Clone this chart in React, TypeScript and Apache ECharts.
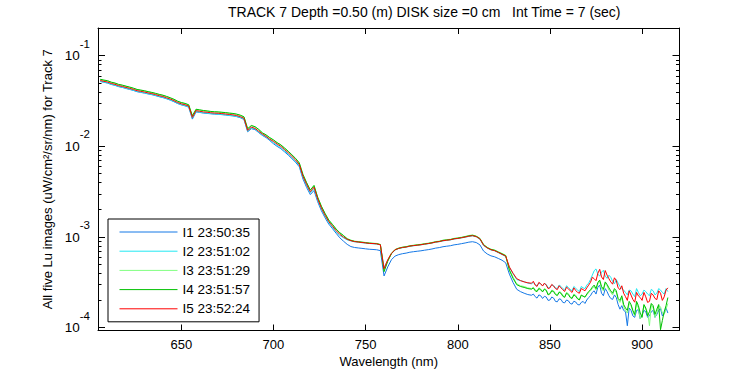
import React, { useEffect, useRef } from "react";
import * as echarts from "echarts";

// Wavelength grid (nm): 2 nm steps 606..914
const wavelengths: number[] = [];
for (let w = 606; w <= 914; w += 2) wavelengths.push(w);
// Extra samples in the noisy red end: odd wavelengths 841..913
const wavelengthsFine: number[] = [];
for (let w = 841; w <= 913; w += 2) wavelengthsFine.push(w);

// Lu radiance (uW/cm^2/sr/nm)
const I1 = [
  520e-4, 510e-4, 499e-4, 482e-4, 471e-4, 456e-4, 447e-4, 435e-4, 425e-4, 414e-4,
  401e-4, 394e-4, 387e-4, 379e-4, 372e-4, 363e-4, 353e-4, 345e-4, 335e-4, 324e-4,
  311e-4, 297e-4, 287e-4, 280e-4, 271e-4, 200e-4, 240e-4, 237e-4, 233e-4, 231e-4,
  229e-4, 227e-4, 226e-4, 224e-4, 222e-4, 219e-4, 217e-4, 213e-4, 207e-4, 198e-4,
  145e-4, 157e-4, 153e-4, 142e-4, 132e-4, 125e-4, 116e-4, 107e-4, 100e-4, 94.4e-4,
  87.1e-4, 80.3e-4, 73.3e-4, 66.8e-4, 59.6e-4, 43.7e-4, 35.2e-4, 29.4e-4, 32.6e-4, 24.5e-4,
  19.5e-4, 16.3e-4, 13.9e-4, 12.4e-4, 11.0e-4, 9.8e-4, 9.0e-4, 8.3e-4, 7.85e-4, 7.67e-4,
  7.58e-4, 7.50e-4, 7.41e-4, 7.33e-4, 7.29e-4, 7.24e-4, 7.08e-4, 3.72e-4, 4.68e-4, 5.62e-4,
  6.17e-4, 6.40e-4, 6.55e-4, 6.65e-4, 6.80e-4, 6.89e-4, 6.97e-4, 7.05e-4, 7.16e-4, 7.26e-4,
  7.38e-4, 7.55e-4, 7.65e-4, 7.82e-4, 7.92e-4, 8.02e-4, 8.20e-4, 8.30e-4, 8.45e-4, 8.60e-4,
  8.78e-4, 8.88e-4, 8.70e-4, 8.20e-4, 7.00e-4, 6.50e-4, 6.20e-4, 6.05e-4, 5.80e-4, 5.55e-4,
  5.20e-4, 3.90e-4, 3.15e-4, 2.65e-4, 2.50e-4, 2.40e-4, 2.32e-4, 2.28e-4, 2.20e-4, 2.30e-4,
  2.10e-4, 2.18e-4, 2.02e-4, 2.12e-4, 1.93e-4, 2.05e-4, 1.88e-4, 1.98e-4, 1.82e-4, 1.92e-4,
  1.78e-4, 1.95e-4, 2.02e-4, 2.25e-4, 2.55e-4, 2.80e-4, 2.40e-4, 2.70e-4, 2.25e-4, 2.05e-4,
  2.15e-4, 1.60e-4, 1.55e-4, 1.05e-4, 1.55e-4, 1.30e-4, 1.58e-4, 1.38e-4, 1.50e-4, 1.35e-4,
  1.55e-4, 1.40e-4, 1.62e-4, 1.45e-4, 1.45e-4,
];
const I1fine = [
  2.35e-4, 2.12e-4, 2.25e-4, 2.22e-4, 2.00e-4, 2.18e-4, 1.95e-4, 2.08e-4, 1.90e-4, 2.02e-4,
  1.85e-4, 1.96e-4, 1.80e-4, 1.90e-4, 1.85e-4, 2.15e-4, 2.45e-4, 2.35e-4, 2.95e-4, 2.25e-4,
  2.50e-4, 2.10e-4, 2.30e-4, 1.80e-4, 1.75e-4, 1.50e-4, 1.65e-4, 1.35e-4, 1.55e-4, 1.25e-4,
  1.55e-4, 1.30e-4, 1.50e-4, 1.30e-4, 1.55e-4, 1.35e-4, 1.65e-4,
];
const I2 = [
  522e-4, 512e-4, 503e-4, 485e-4, 474e-4, 459e-4, 450e-4, 438e-4, 428e-4, 417e-4,
  404e-4, 397e-4, 390e-4, 381e-4, 374e-4, 366e-4, 356e-4, 348e-4, 337e-4, 326e-4,
  314e-4, 299e-4, 289e-4, 282e-4, 273e-4, 205e-4, 243e-4, 239e-4, 235e-4, 233e-4,
  230e-4, 228e-4, 227e-4, 225e-4, 223e-4, 220e-4, 218e-4, 214e-4, 209e-4, 200e-4,
  147e-4, 160e-4, 155e-4, 144e-4, 134e-4, 127e-4, 118e-4, 110e-4, 103e-4, 97.0e-4,
  89.5e-4, 82.5e-4, 75.2e-4, 68.7e-4, 61.2e-4, 45.4e-4, 36.9e-4, 30.7e-4, 34.4e-4, 25.5e-4,
  20.3e-4, 16.9e-4, 14.4e-4, 12.8e-4, 11.4e-4, 10.4e-4, 9.8e-4, 9.3e-4, 9.05e-4, 8.85e-4,
  8.78e-4, 8.65e-4, 8.58e-4, 8.49e-4, 8.42e-4, 8.38e-4, 8.18e-4, 4.60e-4, 5.55e-4, 6.55e-4,
  7.18e-4, 7.48e-4, 7.62e-4, 7.74e-4, 7.90e-4, 8.00e-4, 8.10e-4, 8.20e-4, 8.32e-4, 8.44e-4,
  8.58e-4, 8.76e-4, 8.88e-4, 9.05e-4, 9.20e-4, 9.30e-4, 9.50e-4, 9.62e-4, 9.78e-4, 9.95e-4,
  10.15e-4, 10.30e-4, 10.05e-4, 9.45e-4, 8.05e-4, 7.55e-4, 7.20e-4, 7.05e-4, 6.72e-4, 6.40e-4,
  6.10e-4, 4.60e-4, 3.95e-4, 3.40e-4, 3.30e-4, 3.22e-4, 3.10e-4, 3.05e-4, 3.00e-4, 3.10e-4,
  2.92e-4, 3.00e-4, 2.80e-4, 2.92e-4, 2.70e-4, 2.85e-4, 2.60e-4, 2.78e-4, 2.55e-4, 2.72e-4,
  2.50e-4, 2.75e-4, 2.95e-4, 3.40e-4, 4.25e-4, 3.90e-4, 4.10e-4, 3.70e-4, 3.80e-4, 3.25e-4,
  3.40e-4, 2.85e-4, 2.60e-4, 2.30e-4, 2.55e-4, 2.20e-4, 2.45e-4, 2.35e-4, 2.50e-4, 2.25e-4,
  2.55e-4, 2.40e-4, 2.60e-4, 2.35e-4, 2.50e-4,
];
const I2fine = [
  3.15e-4, 2.90e-4, 3.05e-4, 3.05e-4, 2.75e-4, 2.95e-4, 2.75e-4, 2.95e-4, 2.70e-4, 2.90e-4,
  2.65e-4, 2.85e-4, 2.60e-4, 2.85e-4, 2.70e-4, 3.10e-4, 3.80e-4, 4.45e-4, 3.70e-4, 4.30e-4,
  3.50e-4, 3.60e-4, 3.05e-4, 3.10e-4, 2.70e-4, 2.45e-4, 2.60e-4, 2.35e-4, 2.70e-4, 2.25e-4,
  2.60e-4, 2.35e-4, 2.65e-4, 2.30e-4, 2.70e-4, 2.45e-4, 2.70e-4,
];
const I3 = [
  545e-4, 535e-4, 526e-4, 508e-4, 497e-4, 480e-4, 471e-4, 459e-4, 448e-4, 436e-4,
  423e-4, 416e-4, 408e-4, 399e-4, 392e-4, 383e-4, 373e-4, 365e-4, 354e-4, 342e-4,
  329e-4, 314e-4, 303e-4, 296e-4, 287e-4, 216e-4, 255e-4, 251e-4, 247e-4, 245e-4,
  242e-4, 240e-4, 239e-4, 237e-4, 235e-4, 232e-4, 230e-4, 226e-4, 220e-4, 211e-4,
  155e-4, 169e-4, 164e-4, 153e-4, 141e-4, 133e-4, 124e-4, 117e-4, 109.5e-4, 103.5e-4,
  95.5e-4, 88.0e-4, 80.3e-4, 73.3e-4, 65.4e-4, 48.6e-4, 39.5e-4, 32.8e-4, 36.8e-4, 27.3e-4,
  21.7e-4, 18.1e-4, 15.3e-4, 13.7e-4, 12.2e-4, 11.1e-4, 10.35e-4, 9.60e-4, 9.25e-4, 9.02e-4,
  8.92e-4, 8.83e-4, 8.72e-4, 8.62e-4, 8.56e-4, 8.50e-4, 8.30e-4, 4.30e-4, 5.50e-4, 6.65e-4,
  7.30e-4, 7.58e-4, 7.75e-4, 7.85e-4, 8.03e-4, 8.13e-4, 8.22e-4, 8.32e-4, 8.46e-4, 8.57e-4,
  8.72e-4, 8.92e-4, 9.02e-4, 9.25e-4, 9.35e-4, 9.46e-4, 9.68e-4, 9.80e-4, 9.96e-4, 10.15e-4,
  10.40e-4, 10.55e-4, 10.25e-4, 9.70e-4, 8.30e-4, 7.70e-4, 7.35e-4, 7.20e-4, 6.88e-4, 6.60e-4,
  6.30e-4, 4.40e-4, 3.60e-4, 3.05e-4, 2.90e-4, 2.85e-4, 2.75e-4, 2.70e-4, 2.62e-4, 2.75e-4,
  2.52e-4, 2.62e-4, 2.40e-4, 2.55e-4, 2.30e-4, 2.45e-4, 2.20e-4, 2.38e-4, 2.12e-4, 2.28e-4,
  2.05e-4, 2.25e-4, 2.30e-4, 2.55e-4, 2.85e-4, 3.05e-4, 2.70e-4, 3.10e-4, 2.60e-4, 2.30e-4,
  2.45e-4, 1.90e-4, 1.70e-4, 1.45e-4, 1.75e-4, 1.35e-4, 1.65e-4, 1.40e-4, 1.60e-4, 1.05e-4,
  1.65e-4, 1.45e-4, 1.70e-4, 1.40e-4, 1.85e-4,
];
const I3fine = [
  2.78e-4, 2.55e-4, 2.68e-4, 2.70e-4, 2.35e-4, 2.60e-4, 2.38e-4, 2.50e-4, 2.28e-4, 2.45e-4,
  2.20e-4, 2.35e-4, 2.10e-4, 2.30e-4, 2.15e-4, 2.45e-4, 2.70e-4, 2.60e-4, 3.25e-4, 2.55e-4,
  2.90e-4, 2.45e-4, 2.60e-4, 2.05e-4, 2.15e-4, 1.55e-4, 1.85e-4, 1.50e-4, 1.85e-4, 1.25e-4,
  1.75e-4, 1.50e-4, 1.80e-4, 1.30e-4, 1.75e-4, 1.45e-4, 1.60e-4,
];
const I4 = [
  550e-4, 539e-4, 530e-4, 511e-4, 500e-4, 483e-4, 474e-4, 462e-4, 451e-4, 439e-4,
  425e-4, 418e-4, 411e-4, 402e-4, 394e-4, 385e-4, 375e-4, 367e-4, 356e-4, 344e-4,
  331e-4, 315e-4, 305e-4, 298e-4, 288e-4, 218e-4, 257e-4, 253e-4, 249e-4, 246e-4,
  243e-4, 241e-4, 240e-4, 238e-4, 236e-4, 233e-4, 231e-4, 227e-4, 221e-4, 212e-4,
  157e-4, 170e-4, 165e-4, 154e-4, 141e-4, 134e-4, 125e-4, 118e-4, 110e-4, 104e-4,
  96.0e-4, 88.5e-4, 80.8e-4, 73.8e-4, 65.8e-4, 49.0e-4, 39.8e-4, 33.0e-4, 37.1e-4, 27.5e-4,
  21.9e-4, 18.2e-4, 15.4e-4, 13.8e-4, 12.25e-4, 11.15e-4, 10.4e-4, 9.55e-4, 9.18e-4, 8.95e-4,
  8.86e-4, 8.76e-4, 8.66e-4, 8.56e-4, 8.50e-4, 8.45e-4, 8.25e-4, 4.15e-4, 5.40e-4, 6.55e-4,
  7.25e-4, 7.52e-4, 7.70e-4, 7.80e-4, 7.98e-4, 8.08e-4, 8.17e-4, 8.26e-4, 8.40e-4, 8.50e-4,
  8.65e-4, 8.85e-4, 8.95e-4, 9.18e-4, 9.28e-4, 9.38e-4, 9.60e-4, 9.72e-4, 9.88e-4, 10.08e-4,
  10.30e-4, 10.45e-4, 10.18e-4, 9.62e-4, 8.22e-4, 7.65e-4, 7.30e-4, 7.14e-4, 6.82e-4, 6.52e-4,
  6.22e-4, 4.30e-4, 3.50e-4, 2.98e-4, 2.85e-4, 2.78e-4, 2.70e-4, 2.66e-4, 2.55e-4, 2.70e-4,
  2.48e-4, 2.58e-4, 2.36e-4, 2.50e-4, 2.26e-4, 2.40e-4, 2.16e-4, 2.32e-4, 2.10e-4, 2.22e-4,
  2.02e-4, 2.22e-4, 2.35e-4, 2.62e-4, 2.95e-4, 3.15e-4, 2.85e-4, 3.20e-4, 2.75e-4, 2.40e-4,
  2.55e-4, 2.00e-4, 1.80e-4, 1.55e-4, 1.80e-4, 1.40e-4, 1.75e-4, 1.30e-4, 1.65e-4, 1.50e-4,
  1.75e-4, 1.60e-4, 0.95e-4, 1.50e-4, 2.15e-4,
];
const I4fine = [
  2.75e-4, 2.50e-4, 2.62e-4, 2.65e-4, 2.30e-4, 2.55e-4, 2.32e-4, 2.45e-4, 2.22e-4, 2.40e-4,
  2.15e-4, 2.30e-4, 2.08e-4, 2.28e-4, 2.18e-4, 2.50e-4, 2.80e-4, 2.70e-4, 3.35e-4, 2.65e-4,
  3.00e-4, 2.55e-4, 2.70e-4, 2.10e-4, 2.25e-4, 1.65e-4, 1.95e-4, 1.55e-4, 1.95e-4, 1.45e-4,
  1.80e-4, 1.35e-4, 1.85e-4, 1.40e-4, 1.80e-4, 1.20e-4, 1.75e-4,
];
const I5 = [
  533e-4, 522e-4, 513e-4, 495e-4, 484e-4, 468e-4, 459e-4, 447e-4, 437e-4, 425e-4,
  412e-4, 405e-4, 398e-4, 389e-4, 382e-4, 373e-4, 363e-4, 355e-4, 344e-4, 333e-4,
  320e-4, 305e-4, 295e-4, 288e-4, 279e-4, 209e-4, 248e-4, 244e-4, 240e-4, 238e-4,
  235e-4, 233e-4, 232e-4, 230e-4, 228e-4, 225e-4, 223e-4, 219e-4, 213e-4, 204e-4,
  150e-4, 163e-4, 158e-4, 147e-4, 137e-4, 129e-4, 120e-4, 113.5e-4, 106e-4, 100e-4,
  92.3e-4, 85.1e-4, 77.6e-4, 70.8e-4, 63.1e-4, 46.8e-4, 38.0e-4, 31.6e-4, 35.5e-4, 26.3e-4,
  20.9e-4, 17.4e-4, 14.8e-4, 13.2e-4, 11.75e-4, 10.7e-4, 10.0e-4, 9.44e-4, 9.12e-4, 8.91e-4,
  8.81e-4, 8.71e-4, 8.61e-4, 8.51e-4, 8.47e-4, 8.41e-4, 8.22e-4, 4.47e-4, 5.62e-4, 6.61e-4,
  7.24e-4, 7.50e-4, 7.67e-4, 7.76e-4, 7.94e-4, 8.04e-4, 8.13e-4, 8.22e-4, 8.36e-4, 8.47e-4,
  8.61e-4, 8.81e-4, 8.91e-4, 9.12e-4, 9.23e-4, 9.33e-4, 9.55e-4, 9.66e-4, 9.82e-4, 10.0e-4,
  10.23e-4, 10.35e-4, 10.12e-4, 9.55e-4, 8.13e-4, 7.59e-4, 7.24e-4, 7.08e-4, 6.76e-4, 6.46e-4,
  6.17e-4, 4.68e-4, 3.98e-4, 3.47e-4, 3.31e-4, 3.20e-4, 3.13e-4, 3.09e-4, 2.95e-4, 3.16e-4,
  2.88e-4, 2.95e-4, 2.75e-4, 2.88e-4, 2.63e-4, 2.75e-4, 2.51e-4, 2.69e-4, 2.45e-4, 2.57e-4,
  2.40e-4, 2.63e-4, 2.75e-4, 3.16e-4, 3.47e-4, 3.98e-4, 3.63e-4, 4.27e-4, 3.47e-4, 3.02e-4,
  3.31e-4, 2.63e-4, 2.40e-4, 2.00e-4, 2.29e-4, 1.91e-4, 2.24e-4, 2.00e-4, 2.19e-4, 1.95e-4,
  2.29e-4, 2.04e-4, 2.40e-4, 2.19e-4, 2.75e-4,
];
const I5fine = [
  3.25e-4, 2.85e-4, 3.05e-4, 3.10e-4, 2.70e-4, 3.00e-4, 2.70e-4, 2.90e-4, 2.62e-4, 2.80e-4,
  2.55e-4, 2.75e-4, 2.45e-4, 2.70e-4, 2.55e-4, 2.95e-4, 3.60e-4, 3.30e-4, 4.40e-4, 3.40e-4,
  3.80e-4, 3.20e-4, 3.55e-4, 2.75e-4, 2.90e-4, 2.20e-4, 2.55e-4, 2.05e-4, 2.45e-4, 2.15e-4,
  2.45e-4, 1.90e-4, 2.40e-4, 2.10e-4, 2.55e-4, 2.00e-4, 2.60e-4,
];

const seriesNames = ["I1 23:50:35", "I2 23:51:02", "I3 23:51:29", "I4 23:51:57", "I5 23:52:24"];
const seriesValues = [I1, I2, I3, I4, I5];
const seriesFine = [I1fine, I2fine, I3fine, I4fine, I5fine];
const seriesColors = ["#1478e6", "#22e8f2", "#80ff80", "#00c000", "#ff0000"];

const xTicks = [650, 700, 750, 800, 850, 900];
const yMajor = [1e-4, 1e-3, 1e-2, 1e-1];
const yMinor = [
  2e-4, 3e-4, 4e-4, 5e-4, 6e-4, 7e-4, 8e-4, 9e-4,
  2e-3, 3e-3, 4e-3, 5e-3, 6e-3, 7e-3, 8e-3, 9e-3,
  2e-2, 3e-2, 4e-2, 5e-2, 6e-2, 7e-2, 8e-2, 9e-2,
];
const X_MIN = 604.8;
const X_MAX = 920.3;
const Y_MIN = 9.31e-5;
const Y_MAX = 0.2023;

const titleText = "TRACK 7 Depth =0.50 (m) DISK size =0 cm   Int Time = 7 (sec)";
const xName = "Wavelength (nm)";
const yName = "All five Lu images (uW/cm\u00b2/sr/nm) for Track 7";

const FONT = "'Liberation Sans', Arial, Helvetica, sans-serif";

function buildPoints(k: number): [number, number][] {
  const pts: [number, number][] = wavelengths.map((w, i) => [w, seriesValues[k][i]] as [number, number]);
  wavelengthsFine.forEach((w, i) => pts.push([w, seriesFine[k][i]]));
  pts.sort((a, b) => a[0] - b[0]);
  return pts;
}

export default function App() {
  const ref = useRef<HTMLDivElement>(null);
  useEffect(() => {
    document.body.style.margin = "0";
    const chart = echarts.init(ref.current!, null, { renderer: "svg" });
    const black = { color: "#000", width: 1 };
    const xCommon: any = {
      type: "value",
      min: X_MIN,
      max: X_MAX,
      splitLine: { show: false },
      axisLine: { show: true, lineStyle: black },
      axisTick: { show: true, inside: true, length: 6, customValues: xTicks, lineStyle: black },
    };
    const yCommon: any = {
      type: "log",
      logBase: 10,
      min: Y_MIN,
      max: Y_MAX,
      splitLine: { show: false },
      axisLine: { show: true, lineStyle: black },
    };
    const option: any = {
      animation: false,
      backgroundColor: "#fff",
      textStyle: { fontFamily: FONT },
      title: {
        text: titleText,
        left: 223,
        top: 0,
        textStyle: { fontSize: 14, fontWeight: "normal", color: "#000", fontFamily: FONT },
      },
      grid: { left: 98, right: 70.5, top: 28, bottom: 44.5, containLabel: false },
      legend: {
        orient: "vertical",
        left: 108,
        top: 219,
        padding: [6, 9, 6, 11],
        itemWidth: 58,
        itemHeight: 14,
        itemGap: 5.2,
        borderColor: "#000",
        borderWidth: 1,
        borderRadius: 0,
        backgroundColor: "#fff",
        itemStyle: { opacity: 0 },
        lineStyle: { width: 1 },
        textStyle: { fontSize: 13.5, color: "#000", fontFamily: FONT },
        data: seriesNames,
      },
      xAxis: [
        {
          ...xCommon,
          position: "bottom",
          name: xName,
          nameLocation: "middle",
          nameGap: 21,
          nameTextStyle: { fontSize: 13, color: "#000", fontFamily: FONT },
          axisLabel: { show: true, customValues: xTicks, margin: 7, fontSize: 13, color: "#000", fontFamily: FONT },
        },
        { ...xCommon, position: "top", axisLabel: { show: false } },
      ],
      yAxis: [
        {
          ...yCommon,
          position: "left",
          name: yName,
          nameLocation: "middle",
          nameGap: 41,
          nameTextStyle: { fontSize: 13, color: "#000", fontFamily: FONT },
          axisTick: { show: true, inside: true, length: 7, customValues: yMajor, lineStyle: black },
          axisLabel: {
            show: true,
            customValues: yMajor,
            margin: 8,
            formatter: (v: number) => `{a|10}{b|${Math.round(Math.log10(v))}}`,
            rich: {
              a: { fontSize: 13.5, color: "#000", fontFamily: FONT },
              b: { fontSize: 11.5, color: "#000", fontFamily: FONT, padding: [0, 0, 24, 0] },
            },
          },
        },
        {
          ...yCommon,
          position: "right",
          axisTick: { show: true, inside: true, length: 7, customValues: yMajor, lineStyle: black },
          axisLabel: { show: false },
        },
        {
          ...yCommon,
          position: "left",
          axisLine: { show: false },
          axisTick: { show: true, inside: true, length: 3.5, customValues: yMinor, lineStyle: black },
          axisLabel: { show: false },
        },
        {
          ...yCommon,
          position: "right",
          axisLine: { show: false },
          axisTick: { show: true, inside: true, length: 3.5, customValues: yMinor, lineStyle: black },
          axisLabel: { show: false },
        },
      ],
      series: seriesNames.map((name, k) => ({
        name,
        type: "line",
        xAxisIndex: 0,
        yAxisIndex: 0,
        symbol: "none",
        showSymbol: false,
        color: seriesColors[k],
        lineStyle: { width: 1, color: seriesColors[k] },
        data: buildPoints(k),
      })),
    };
    chart.setOption(option);
    return () => chart.dispose();
  }, []);
  return (
    <div
      ref={ref}
      style={{ position: "fixed", left: 0, top: 0, width: 750, height: 375, background: "#fff" }}
    />
  );
}
